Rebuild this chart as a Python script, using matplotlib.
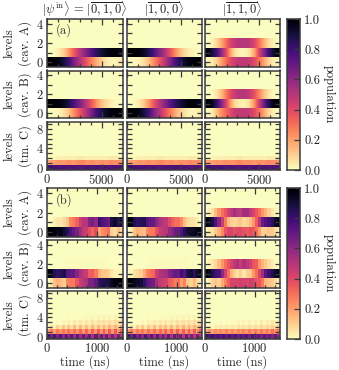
import numpy as np
import matplotlib
matplotlib.use("Agg")
import matplotlib.pyplot as plt
from matplotlib.ticker import MultipleLocator

plt.rcParams["font.family"] = ["cmr10", "DejaVu Serif"]
plt.rcParams["mathtext.fontset"] = "cm"
plt.rcParams["axes.unicode_minus"] = False
plt.rcParams["axes.formatter.use_mathtext"] = True
plt.rcParams["font.size"] = 9

W, H = 339, 370

# time ranges (ns)
t_max_a = 6950
t_max_b = 1510

titles = [r"$|\psi^{\rm in}\rangle\,=\,|\overline{0,1,0}\rangle$",
          r"$|\overline{1,0,0}\rangle$",
          r"$|\overline{1,1,0}\rangle$"]
row_labels = ["levels\n(cav. A)", "levels\n(cav. B)", "levels\n(tm. C)"]

# panel (a), populations per level, read along time
a_rise = [0, .01, .04, .1, .2, .33, .45, .55, .66, .75, .84, .9, .95, .98, .98, .95]
a_fall = [1, .99, .96, .9, .8, .67, .55, .45, .34, .25, .16, .1, .05, .02, .02, .05]
a_swap_hi = [1, .99, .98, .94, .88, .78, .68, .58, .46, .34, .22, .13, .07, .03, .01, .01]
a_swap_lo = [0, .01, .02, .06, .12, .22, .32, .42, .54, .66, .78, .87, .93, .97, .99, .99]

a_11_A2 = [0, .02, .08, .18, .3, .42, .48, .5, .5, .48, .42, .3, .18, .08, .02, 0]
a_11_A1 = [.98, .9, .78, .6, .4, .18, .06, .02, .02, .06, .18, .4, .6, .78, .9, .98]
a_11_A0 = [.02, .04, .1, .2, .3, .4, .46, .48, .48, .46, .4, .3, .2, .1, .04, .02]
a_11_B2 = [0, .01, .05, .14, .27, .4, .47, .5, .5, .46, .38, .26, .14, .06, .01, 0]
a_11_B1 = [.99, .96, .82, .62, .42, .2, .07, .03, .03, .08, .22, .44, .66, .84, .96, .99]
a_11_B0 = [.01, .03, .13, .24, .31, .4, .46, .47, .47, .46, .4, .3, .2, .1, .03, .01]

a_tm0 = [.8, .78, .76, .77, .75, .76, .75, .74, .76, .75, .77, .75, .76, .74, .76, .75]
a_tm1 = [.19, .2, .22, .21, .24, .22, .24, .26, .22, .24, .21, .24, .22, .25, .23, .24]
a_tm2 = [.01, .02, .03, .03, .04, .03, .04, .05, .03, .04, .03, .04, .03, .05, .04, .04]

# panel (b)
b_010_A1 = [0, 0, .03, .05, .05, .08, .12, .25, .28, .33, .45, .5, .5, .62, .66, .6, .8, .75, .72, .68, .88, .92, .85, .9]
b_010_A0 = [1, 1, .97, .95, .95, .9, .85, .75, .7, .65, .55, .48, .45, .38, .32, .38, .18, .24, .26, .3, .1, .07, .13, .08]
b_010_B2 = [0, 0, 0, 0, 0, .003, .005, .008, .005, .008, .008, .005, .008, .005, .008, .008, .005, .008, .005, .003, 0, 0, 0, 0]
b_010_B1 = [1, .95, .85, .82, .85, .88, .72, .7, .7, .62, .52, .48, .46, .34, .34, .28, .16, .12, .12, .1, .05, .02, .02, .02]
b_010_B0 = [0, .05, .13, .16, .13, .1, .26, .28, .28, .36, .46, .5, .52, .64, .64, .7, .82, .87, .87, .88, .93, .97, .97, .97]

b_100_A1 = [1, .97, .86, .82, .84, .86, .74, .7, .7, .62, .54, .5, .48, .4, .34, .3, .3, .24, .14, .08, .06, .05, .03, .01]
b_100_A0 = [0, .03, .13, .17, .15, .13, .25, .28, .28, .36, .44, .48, .5, .58, .62, .68, .68, .74, .84, .9, .92, .94, .96, .98]
b_100_B2 = [0, 0, 0, 0, 0, 0, .003, .005, .008, .005, .008, .008, .008, .008, .005, .008, .005, .008, .005, .005, .003, 0, 0, 0]
b_100_B1 = [0, .02, .06, .08, .1, .18, .26, .3, .32, .44, .5, .52, .54, .62, .66, .7, .68, .78, .72, .86, .9, .84, .92, .95]
b_100_B0 = [1, .98, .94, .92, .9, .82, .73, .68, .66, .54, .47, .45, .43, .35, .32, .27, .3, .2, .26, .12, .09, .15, .07, .05]

b_110_A2 = [.01, .03, .06, .14, .22, .3, .36, .44, .48, .55, .5, .48, .55, .55, .48, .42, .36, .3, .22, .16, .1, .05, .02, .01]
b_110_A1 = [.97, .93, .88, .75, .62, .45, .28, .14, .1, .08, .1, .12, .08, .1, .14, .22, .34, .5, .68, .74, .78, .84, .92, .95]
b_110_A0 = [.02, .04, .06, .11, .16, .25, .36, .42, .42, .37, .4, .4, .37, .35, .38, .36, .3, .2, .1, .1, .12, .11, .06, .04]
b_110_B2 = [.01, .02, .05, .08, .14, .22, .3, .36, .42, .48, .52, .46, .52, .48, .44, .36, .34, .22, .16, .12, .07, .03, .01, 0]
b_110_B1 = [.98, .94, .86, .8, .76, .6, .44, .3, .16, .1, .06, .1, .05, .1, .12, .22, .3, .42, .56, .72, .8, .86, .92, .96]
b_110_B0 = [.01, .04, .09, .12, .1, .18, .26, .34, .42, .42, .42, .44, .43, .42, .44, .42, .36, .36, .28, .16, .13, .11, .07, .04]

# transmon rows have stripes, so a finer read
b_010_C0 = [.8, .66, .76, .62, .74, .6, .74, .58, .72, .56, .72, .54, .7, .54, .7, .52, .7, .52, .68, .5, .68, .5, .66, .5, .66, .48]
b_010_C1 = [.19, .27, .21, .28, .22, .28, .22, .3, .22, .3, .22, .32, .22, .32, .22, .33, .22, .33, .22, .34, .22, .34, .22, .34, .22, .34]
b_010_C2 = [.01, .07, .03, .1, .04, .12, .04, .12, .06, .14, .06, .14, .07, .14, .07, .15, .07, .15, .08, .16, .08, .16, .09, .16, .09, .17]
b_010_C3 = [0, 0, 0, .01, 0, .02, .01, .03, .01, .04, .02, .05, .02, .05, .03, .06, .03, .06, .04, .07, .04, .07, .04, .07, .05, .08]
b_010_C4 = [0, 0, 0, 0, 0, 0, 0, .005, 0, .01, 0, .01, .005, .015, .005, .02, .005, .02, .01, .025, .01, .025, .01, .03, .01, .03]

b_100_C0 = [.8, .66, .76, .62, .74, .6, .74, .58, .72, .56, .72, .54, .7, .54, .7, .52, .7, .52, .68, .5, .68, .5, .66, .5, .66, .5]
b_100_C1 = [.19, .27, .21, .28, .22, .28, .22, .3, .22, .3, .22, .31, .22, .32, .22, .33, .22, .33, .22, .33, .22, .34, .22, .34, .22, .34]
b_100_C2 = [.01, .07, .03, .1, .04, .12, .04, .12, .06, .14, .06, .14, .07, .14, .07, .15, .07, .15, .08, .16, .08, .16, .09, .16, .09, .16]
b_100_C3 = [0, 0, 0, .01, 0, .02, .01, .03, .02, .04, .02, .05, .02, .05, .03, .05, .03, .06, .04, .06, .04, .07, .04, .07, .05, .07]
b_100_C4 = [0, 0, 0, 0, 0, 0, 0, .005, 0, .01, 0, .01, .005, .015, .005, .02, .005, .02, .01, .02, .01, .025, .01, .03, .01, .03]

b_110_C0 = [.82, .74, .8, .72, .78, .72, .76, .7, .76, .7, .76, .68, .74, .68, .74, .66, .74, .66, .72, .64, .72, .64, .7, .62, .7, .6]
b_110_C1 = [.17, .22, .19, .24, .2, .24, .21, .25, .21, .25, .21, .26, .22, .26, .22, .27, .22, .27, .22, .28, .22, .28, .23, .29, .23, .3]
b_110_C2 = [.01, .03, .01, .04, .02, .04, .03, .05, .03, .05, .03, .06, .04, .06, .04, .07, .04, .07, .05, .08, .05, .08, .06, .09, .06, .1]
b_110_C3 = [0, 0, 0, 0, 0, .005, 0, .01, 0, .01, .005, .02, .005, .02, .01, .03, .01, .03, .01, .04, .01, .04, .02, .05, .02, .05]

# one row of three columns per subsystem, lowest level first
panels_a = [
    [[a_fall, a_rise], [a_swap_lo, a_swap_hi], [a_11_A0, a_11_A1, a_11_A2]],
    [[a_swap_lo, a_swap_hi], [a_fall, a_rise], [a_11_B0, a_11_B1, a_11_B2]],
    [[a_tm0, a_tm1, a_tm2], [a_tm0, a_tm1, a_tm2], [a_tm0, a_tm1, a_tm2]],
]
panels_b = [
    [[b_010_A0, b_010_A1], [b_100_A0, b_100_A1], [b_110_A0, b_110_A1, b_110_A2]],
    [[b_010_B0, b_010_B1, b_010_B2], [b_100_B0, b_100_B1, b_100_B2], [b_110_B0, b_110_B1, b_110_B2]],
    [[b_010_C0, b_010_C1, b_010_C2, b_010_C3, b_010_C4],
     [b_100_C0, b_100_C1, b_100_C2, b_100_C3, b_100_C4],
     [b_110_C0, b_110_C1, b_110_C2, b_110_C3]],
]

col_x = [(47, 123), (127, 202), (205, 280)]
rows_a = [(19, 67), (70.5, 118), (122, 170)]
rows_b = [(188, 237), (240, 288), (291, 339)]
spine_col = "#3a3a3a"


def make_axes(x0, x1, y0, y1):
    return fig.add_axes([x0 / W, 1 - y1 / H, (x1 - x0) / W, (y1 - y0) / H])


def draw_panel(ax, levels, n_levels, t_max, interp):
    # each level is its own strip so smoothing stays along time only
    for lvl in range(n_levels):
        vals = levels[lvl] if lvl < len(levels) else [0, 0]
        ax.imshow(np.array([vals], dtype=float), extent=(0, t_max, lvl - .5, lvl + .5),
                  aspect="auto", origin="lower", cmap="magma_r", vmin=0, vmax=1,
                  interpolation=interp)
    ax.set_xlim(0, t_max)
    ax.set_ylim(-.5, n_levels - .5)


def style_axes(ax, row, col, major_x, minor_x, show_x):
    ax.xaxis.set_major_locator(MultipleLocator(major_x))
    ax.xaxis.set_minor_locator(MultipleLocator(minor_x))
    if row < 2:
        ax.yaxis.set_major_locator(MultipleLocator(2))
    else:
        ax.yaxis.set_major_locator(MultipleLocator(4))
    ax.yaxis.set_minor_locator(MultipleLocator(1))
    ax.tick_params(which="both", direction="in", top=True, right=True, color=spine_col, width=.9,
                   labelsize=9, pad=2.5, labelcolor="#222222")
    ax.tick_params(which="major", length=4)
    ax.tick_params(which="minor", length=2)
    ax.tick_params(axis="y", which="minor", length=3.5)
    ax.tick_params(axis="y", which="major", length=3.5)
    ax.tick_params(labelbottom=show_x, labelleft=col == 0)
    for s in ax.spines.values():
        s.set_color(spine_col)
        s.set_linewidth(1.1)
    if col == 0:
        ax.set_ylabel(row_labels[row], fontsize=9, linespacing=1.25, color="#222222", va="center")
        ax.yaxis.set_label_coords(-0.39, 0.5)


def add_colorbar(y0, y1):
    cax = make_axes(287, 300, y0, y1)
    grad = np.linspace(0, 1, 256)[:, None]
    cax.imshow(grad, extent=(0, 1, 0, 1), aspect="auto", origin="lower", cmap="magma_r", vmin=0, vmax=1)
    cax.set_xticks([])
    cax.yaxis.tick_right()
    cax.set_yticks(np.arange(0, 1.01, .2))
    cax.set_yticklabels(["0.0", "0.2", "0.4", "0.6", "0.8", "1.0"])
    cax.tick_params(axis="y", direction="in", length=4, width=.9, color=spine_col, labelsize=9,
                    pad=3, labelcolor="#222222")
    for s in cax.spines.values():
        s.set_color(spine_col)
        s.set_linewidth(1.1)
    fig.text(329 / W, 1 - (y0 + y1) / 2 / H, "population", rotation=270, ha="center", va="center",
             fontsize=9, color="#222222")


fig = plt.figure(figsize=(W / 100, H / 100), dpi=100)

for panels, rows, t_max, major_x, minor_x, interp, tag in [
    (panels_a, rows_a, t_max_a, 5000, 1000, "bilinear", "(a)"),
    (panels_b, rows_b, t_max_b, 1000, 200, "nearest", "(b)"),
]:
    for r in range(3):
        for c in range(3):
            ax = make_axes(col_x[c][0], col_x[c][1], rows[r][0], rows[r][1])
            draw_panel(ax, panels[r][c], 10 if r == 2 else 5, t_max, interp)
            style_axes(ax, r, c, major_x, minor_x, r == 2)
            if r == 0 and c == 0:
                ax.text(.12, .76, tag, transform=ax.transAxes, fontsize=9, color="#333333", va="center")
            if tag == "(a)" and r == 0:
                ax.set_title(titles[c], fontsize=9, pad=2.5, color="#222222")
            if tag == "(b)" and r == 2:
                ax.set_xlabel("time (ns)", fontsize=9, labelpad=0, color="#222222")
    add_colorbar(rows[0][0], rows[2][1])

fig.savefig("out.png", dpi=100)
